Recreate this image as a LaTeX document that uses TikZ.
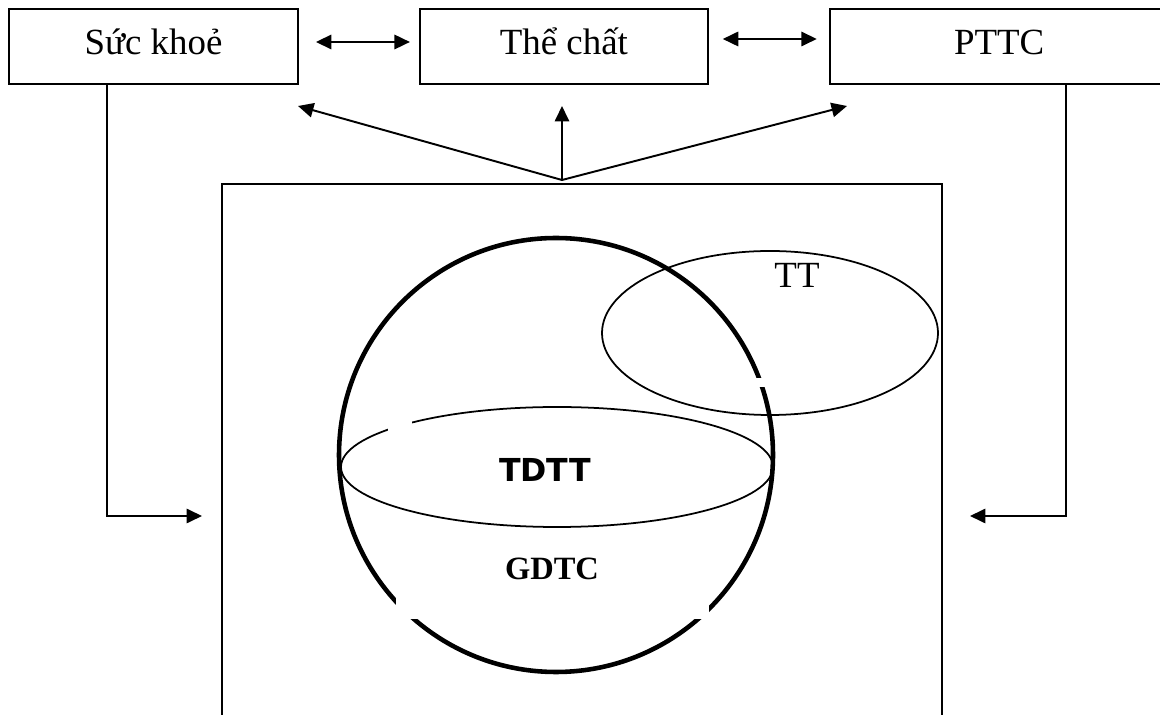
\documentclass[tikz,border=0pt]{standalone}
\usepackage{fontspec}
\setmainfont{Liberation Serif}
\newfontfamily\tdttfont{DejaVu Sans}
\usetikzlibrary{positioning,arrows.meta,calc}

\begin{document}
\begin{tikzpicture}[x=0.02cm, y=-0.02cm, line width=1.1pt,
    >={Triangle[length=8.8pt,width=8.2pt]},
    topbox/.style={rectangle, draw, minimum height=1.5cm, inner sep=0pt,
        text height=9.6pt, text depth=0pt, font=\fontsize{21}{25}\selectfont}]
    \useasboundingbox (0,0) rectangle (1160,715);
    \clip (0,0) rectangle (1160,715);

    % Top row
    \node (skhoe) [topbox, minimum width=5.78cm] at (153.5,46.5) {Sức khoẻ};
    \node (thechat) [topbox, minimum width=5.76cm, right=2.4cm of skhoe] {Thể chất};
    \node (pttc) [topbox, minimum width=6.78cm, right=2.4cm of thechat] {PTTC};

    % Frame
    \node (frame) [rectangle, draw, minimum width=14.4cm, minimum height=11.52cm] at (582,472) {};

    % Sphere and ellipses
    \draw[line width=2.6pt] (556,455) circle (217);
    \fill[white] (396,540) rectangle (709,619);
    \fill[white] (750,378) rectangle (772,387);
    \draw[line width=1pt] (770,333) ellipse (168 and 82);
    \draw[line width=1pt] (557,467) ellipse (216 and 60);
    \fill[white] (388,416) rectangle (412,434);

    % Labels
    \node (tt) [anchor=base, font=\fontsize{21}{25}\selectfont] at (797,288) {TT};
    \node (tdtt) [anchor=base, font=\tdttfont\bfseries\fontsize{18}{22}\selectfont] at (545,482) {TDTT};
    \node (gdtc) [anchor=base, font=\bfseries\fontsize{18.5}{22}\selectfont] at (552,580) {GDTC};

    % Links
    \draw[<->] ($(skhoe.east)+(17,-4.5)$) -- ($(thechat.west)+(-9,-4.5)$);
    \draw[<->] ($(thechat.east)+(14,-7.5)$) -- ($(pttc.west)+(-12,-7.5)$);

    \coordinate (hub) at (562,180);
    \coordinate (upl) at (298,106);
    \coordinate (upc) at (562,106);
    \coordinate (upr) at (847,106);
    \draw[->] (hub) -- (upl);
    \draw[->] (hub) -- (upc);
    \draw[->] (hub) -- (upr);

    \coordinate (inl) at (202,516);
    \coordinate (inr) at (970,516);
    \draw[->] (107,0 |- skhoe.south) |- (inl);
    \draw[->] (1066,0 |- pttc.south) |- (inr);
\end{tikzpicture}
\end{document}
